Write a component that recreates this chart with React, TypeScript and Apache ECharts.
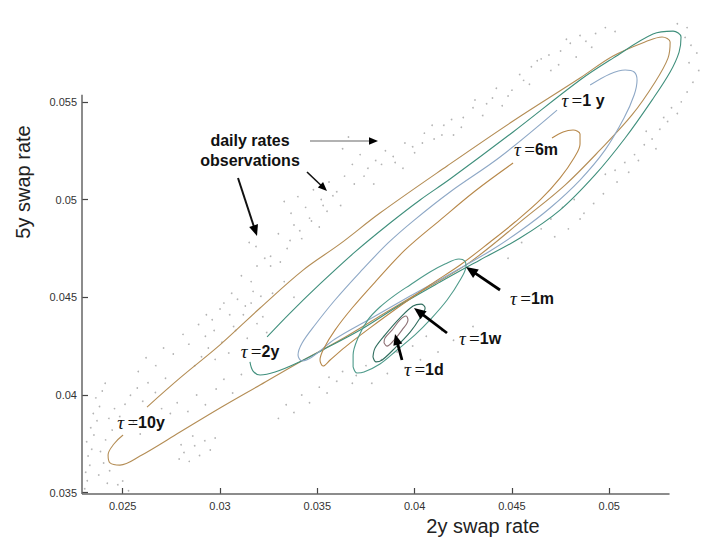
import React, { useEffect, useRef } from "react";
import * as echarts from "echarts";

// ---- axis extents & ticks ----
const X_MIN = 0.02291;
const X_MAX = 0.05487;
const X_AXIS_END = 0.0531;
const Y_MIN = 0.03493;
const Y_MAX = 0.05919;
const Y_AXIS_END = 0.05536;
const xTicks = [0.025, 0.03, 0.035, 0.04, 0.045, 0.05];
const yTicks = [0.035, 0.04, 0.045, 0.05, 0.055];

// ---- daily rate observations (2y, 5y) ----
const observations: number[][] = [
  [0.02305,0.0352],[0.02318,0.03561],[0.0231,0.03604],[0.02331,0.0364],[0.02322,0.03688],[0.02341,0.03722],
  [0.02315,0.0376],[0.02352,0.03795],[0.02336,0.03832],[0.02368,0.03868],[0.02349,0.03905],[0.02381,0.03941],
  [0.02362,0.03985],[0.02395,0.0402],[0.0241,0.0406],[0.02386,0.0371],[0.02402,0.03652],[0.02377,0.0359],
  [0.02421,0.03548],[0.02433,0.03612],[0.02412,0.0377],[0.02446,0.0382],[0.02429,0.0388],[0.02458,0.0393],
  [0.02485,0.0389],[0.02512,0.03952],[0.0254,0.03998],[0.02575,0.04035],[0.02603,0.03968],[0.0263,0.04062],
  [0.02668,0.04012],[0.02555,0.03862],[0.0259,0.038],[0.02645,0.0388],[0.027,0.0393],[0.0272,0.04085],
  [0.025,0.0356],[0.0253,0.0351],[0.02475,0.0354],
  [0.0279,0.03672],[0.02815,0.03705],[0.02842,0.0366],[0.0287,0.0374],[0.02895,0.0369],[0.02922,0.03765],
  [0.0295,0.03718],[0.02975,0.0378],[0.0286,0.0379],[0.028,0.03745],
  [0.0269,0.0384],[0.02745,0.03905],[0.0278,0.0396],[0.02835,0.03915],[0.0288,0.04],[0.02925,0.0395],
  [0.0298,0.0403],[0.0302,0.0408],[0.03065,0.0401],[0.0311,0.04105],
  [0.0287,0.0415],[0.02905,0.04195],[0.0294,0.0424],[0.02975,0.04182],[0.0301,0.0427],[0.03045,0.04215],
  [0.02925,0.043],[0.0296,0.04385],[0.03,0.0444],[0.0305,0.0441],[0.0309,0.0449],[0.0313,0.04455],
  [0.0317,0.0453],[0.0321,0.04505],[0.0308,0.0433],[0.0314,0.0429],[0.0319,0.04365],[0.0324,0.0432],
  [0.0315,0.0478],[0.03185,0.0476],[0.0323,0.047],[0.0326,0.0466],[0.033,0.04825],[0.03345,0.0475],
  [0.0338,0.0487],[0.0342,0.048],[0.0346,0.04905],[0.0351,0.0486],[0.0355,0.0494],
  [0.0333,0.0499],[0.03365,0.0493],[0.034,0.05015],[0.0344,0.0496],[0.0348,0.0505],[0.0352,0.05],
  [0.0356,0.0509],[0.036,0.0504],[0.0364,0.0512],[0.0368,0.0518],[0.0363,0.0526],[0.0366,0.0532],
  [0.0372,0.0523],[0.0376,0.0516],[0.038,0.052],[0.0385,0.0525],[0.039,0.0519],[0.0395,0.0529],
  [0.04,0.0524],[0.0405,0.0534],
  [0.041,0.0531],[0.0415,0.0538],[0.042,0.0533],[0.0425,0.0542],[0.043,0.0547],[0.0435,0.0543],
  [0.044,0.0552],[0.0445,0.0548],[0.045,0.0556],[0.0456,0.0561],[0.046,0.0568],[0.0465,0.0572],
  [0.047,0.0566],[0.0475,0.0576],[0.048,0.058],[0.0483,0.0573],[0.0488,0.0581],[0.0493,0.0585],
  [0.0498,0.0588],[0.0503,0.0586],
  [0.0539,0.0583],[0.0542,0.0579],[0.0545,0.0575],[0.0541,0.057],[0.0546,0.0566],[0.0543,0.056],
  [0.054,0.0555],[0.0537,0.055],[0.0535,0.0544],[0.053,0.054],[0.0526,0.0536],[0.0522,0.0531],
  [0.0518,0.0528],[0.0513,0.0523],[0.0508,0.0519],[0.0503,0.0515],[0.0498,0.0513],[0.0532,0.0547],
  [0.0528,0.0542],[0.0519,0.0535],[0.054,0.0588],[0.0535,0.059],
  [0.033,0.0388],[0.0334,0.0395],[0.0338,0.0391],[0.0342,0.04],[0.0346,0.0396],[0.0351,0.0404],
  [0.0355,0.0401],[0.036,0.0407],[0.037,0.041],[0.0378,0.0406],[0.0386,0.0411],[0.0395,0.0414],
  [0.0403,0.0418],[0.0412,0.0422],[0.042,0.0428],[0.043,0.0435],[0.0307,0.0435],[0.0312,0.0441],
  [0.0316,0.0447],[0.0322,0.044],[0.0327,0.0452],[0.0333,0.0458],[0.0338,0.045],
  [0.047,0.049],[0.0476,0.0496],[0.0482,0.05],[0.0487,0.0493],[0.0465,0.0485],[0.0455,0.0478],[0.0448,0.047],
  [0.0258,0.0412],[0.0262,0.0419],[0.0267,0.0415],[0.0271,0.0424],[0.0276,0.0421],[0.0281,0.0431],
  [0.0284,0.0426],[0.0289,0.0436],[0.0293,0.0441],[0.0297,0.0433],[0.0302,0.0447],[0.0306,0.0452],
  [0.0311,0.0461],[0.0316,0.0458],[0.0319,0.0466],[0.0326,0.0471],[0.0331,0.0468],[0.0336,0.0479],
  [0.0341,0.0484],[0.0347,0.0489],[0.0353,0.0497],[0.0358,0.0502],[0.0362,0.0497],[0.0369,0.0508],
  [0.0374,0.0512],[0.0379,0.0508],[0.0383,0.0518],[0.0389,0.0522],[0.0394,0.0516],[0.0399,0.0527],
  [0.0404,0.0529],[0.0409,0.0538],[0.0414,0.0533],[0.0419,0.0541],[0.0424,0.0537],[0.0431,0.0551],
  [0.0437,0.0549],[0.0442,0.0557],[0.0448,0.0553],[0.0454,0.0564],[0.0459,0.0559],[0.0463,0.0571],
  [0.0469,0.0574],[0.0474,0.0569],[0.0478,0.0582],[0.0485,0.0584],[0.0491,0.0578],
  [0.0356,0.0409],[0.0363,0.0412],[0.0368,0.0406],[0.0375,0.0415],[0.0383,0.0418],[0.0391,0.0422],
  [0.0399,0.0425],[0.0406,0.043],[0.0414,0.0433],[0.0472,0.0481],[0.0479,0.0485],[0.0485,0.049],
  [0.0492,0.0498],[0.0497,0.0503],[0.0504,0.0509],[0.051,0.0514],[0.0515,0.052],[0.0524,0.0526],
];

// ---- contour curves (2y, 5y) ----
const curve10y: number[][] = [
  [0.02625,0.03938],[0.02795,0.04087],[0.03,0.04256],[0.03206,0.04445],[0.03427,0.04639],[0.03617,0.04773],
  [0.03822,0.04931],[0.04167,0.05172],[0.04506,0.05402],[0.0485,0.05622],[0.0502,0.05735],[0.05195,0.05811],
  [0.05272,0.05832],[0.05313,0.05806],[0.05302,0.05724],[0.05236,0.05602],[0.05117,0.05433],[0.04953,0.05254],
  [0.04773,0.05074],[0.04568,0.04906],[0.04285,0.0468],[0.04028,0.04527],[0.03822,0.04404],[0.03617,0.04281],
  [0.03411,0.04169],[0.03206,0.04051],[0.03,0.03933],[0.02795,0.0381],[0.02589,0.03687],[0.02486,0.03641],
  [0.02435,0.03652],[0.02425,0.03693],[0.02455,0.03749],[0.02502,0.03795],
];
const curve2y: number[][] = [
  [0.03242,0.04297],[0.0336,0.04419],[0.03514,0.04568],[0.03694,0.04732],[0.03874,0.0488],[0.04028,0.04998],
  [0.04182,0.05105],[0.04506,0.05346],
  [0.0485,0.05612],[0.0502,0.05724],[0.05225,0.05847],[0.05328,0.05862],[0.05369,0.05832],[0.05359,0.05755],
  [0.05313,0.05653],[0.0522,0.05509],[0.05082,0.05315],[0.04927,0.05126],[0.04747,0.04946],[0.04542,0.04803],
  [0.04336,0.04691],[0.04131,0.04578],[0.03925,0.0446],[0.0372,0.04332],[0.03566,0.0425],[0.03396,0.04163],
  [0.03283,0.04117],[0.03206,0.04102],[0.0317,0.04122],[0.03154,0.04169],
];
const curve1y: number[][] = [
  [0.04902,0.05586],[0.05004,0.05643],[0.05082,0.05663],[0.05128,0.05653],[0.05143,0.05612],[0.05128,0.05535],
  [0.05076,0.05417],[0.04979,0.05254],[0.0485,0.051],[0.04696,0.04957],[0.04542,0.04839],[0.04388,0.04737],
  [0.04182,0.04619],[0.03977,0.04506],[0.03771,0.04389],[0.03591,0.04286],[0.03473,0.04194],[0.03422,0.04174],
  [0.03401,0.04204],[0.03422,0.04266],[0.03488,0.04358],[0.03591,0.04486],[0.0372,0.04629],[0.03864,0.04778],
  [0.03992,0.0489],[0.04182,0.05039],[0.04439,0.05218],[0.04732,0.05458],
];
const curve6m: number[][] = [
  [0.04706,0.05315],[0.04763,0.05346],[0.04814,0.05356],[0.0485,0.05335],[0.0485,0.05284],[0.04819,0.05213],
  [0.04747,0.0511],[0.04645,0.04998],[0.04516,0.04885],[0.04388,0.04783],[0.04234,0.04665],[0.04079,0.04563],
  [0.03925,0.04455],[0.03771,0.04343],[0.03643,0.04245],[0.03566,0.04179],[0.0353,0.04148],[0.03514,0.04179],
  [0.03535,0.0424],[0.03591,0.04332],[0.03679,0.04445],[0.03797,0.04578],[0.03951,0.04742],[0.04131,0.04895],
  [0.04311,0.05044],[0.04506,0.05187],
];
const curve1m: number[][] = [
  [0.03684,0.04143],[0.03704,0.04112],[0.0374,0.04117],[0.03822,0.04158],[0.0391,0.0423],[0.04002,0.04307],
  [0.04079,0.04384],[0.04167,0.04486],[0.04234,0.04588],[0.04264,0.0466],[0.04259,0.04685],[0.04228,0.04696],
  [0.04156,0.0467],[0.04079,0.04629],[0.03977,0.04563],[0.03899,0.04511],[0.03822,0.0445],[0.0376,0.04384],
  [0.03709,0.04291],[0.03684,0.04204],[0.03684,0.04143],
];
const curve1w: number[][] = [
  [0.03786,0.04194],[0.03802,0.04169],[0.03833,0.04179],[0.03899,0.0424],[0.03977,0.04322],[0.04028,0.04394],
  [0.04054,0.04445],[0.04033,0.04465],[0.03992,0.04455],[0.03925,0.04394],[0.03848,0.04307],[0.03797,0.0424],
  [0.03786,0.04194],
];
const curve1d: number[][] = [
  [0.03843,0.04266],[0.03858,0.0425],[0.03894,0.04281],[0.03935,0.04332],[0.03966,0.04384],[0.03956,0.04404],
  [0.03925,0.04384],[0.03884,0.04332],[0.03848,0.04291],[0.03843,0.04266],
];

const curves = [
  { name: "10y", data: curve10y, color: "#b48d55" },
  { name: "2y", data: curve2y, color: "#3f8f7c" },
  { name: "1y", data: curve1y, color: "#8ea8c6" },
  { name: "6m", data: curve6m, color: "#b7884a" },
  { name: "1m", data: curve1m, color: "#4d9a8a" },
  { name: "1w", data: curve1w, color: "#2f6d5e" },
  { name: "1d", data: curve1d, color: "#8c6f73" },
];

const tauLabels = [
  { v: "1 y", x: 583, y: 100 },
  { v: "6m", x: 536, y: 149 },
  { v: "2y", x: 260, y: 351 },
  { v: "10y", x: 141, y: 422 },
  { v: "1m", x: 532, y: 298 },
  { v: "1w", x: 480, y: 338 },
  { v: "1d", x: 424, y: 369 },
];

function arrow(x1: number, y1: number, x2: number, y2: number, w: number, head: number, color: string) {
  const a = Math.atan2(y2 - y1, x2 - x1);
  const hx = x2 - head * Math.cos(a);
  const hy = y2 - head * Math.sin(a);
  const px = -Math.sin(a) * head * 0.42;
  const py = Math.cos(a) * head * 0.42;
  return [
    { type: "line", silent: true, z: 100, shape: { x1, y1, x2: hx + Math.cos(a) * 1, y2: hy + Math.sin(a) * 1 }, style: { stroke: color, lineWidth: w } },
    { type: "polygon", silent: true, z: 100, shape: { points: [[x2, y2], [hx + px, hy + py], [hx - px, hy - py]] }, style: { fill: "#000" } },
  ];
}

const fmt = (v: number) => parseFloat(Number(v).toFixed(4)).toString();

export default function App() {
  const ref = useRef<HTMLDivElement>(null);
  useEffect(() => {
    if (!ref.current) return;
    const chart = echarts.init(ref.current, null, { renderer: "svg" });
    const axisLabelStyle = { color: "#333", fontSize: 11, fontFamily: "Liberation Sans, Arial, sans-serif" };
    const graphics: any[] = [
      {
        type: "text", silent: true, z: 100, x: 250, y: 150,
        style: { text: "daily rates\nobservations", fill: "#111", font: "bold 16px 'Liberation Sans', Arial, sans-serif", align: "center", verticalAlign: "middle", lineHeight: 20 },
      },
      {
        type: "text", silent: true, z: 100, x: 23, y: 182, rotation: Math.PI / 2,
        style: { text: "5y swap rate", fill: "#222", font: "20px 'Liberation Sans', Arial, sans-serif", align: "center", verticalAlign: "middle" },
      },
      {
        type: "text", silent: true, z: 100, x: 483, y: 526,
        style: { text: "2y swap rate", fill: "#222", font: "20px 'Liberation Sans', Arial, sans-serif", align: "center", verticalAlign: "middle" },
      },
      ...arrow(310, 141, 378, 141, 1.2, 9, "#666"),
      ...arrow(307, 172, 327, 191, 1.6, 9, "#111"),
      ...arrow(238, 178, 257, 236, 2, 11, "#111"),
      ...arrow(500, 290, 466, 267, 2.8, 12, "#000"),
      ...arrow(447, 333, 414, 308, 2.8, 12, "#000"),
      ...arrow(402, 360, 395, 334, 2.8, 11, "#000"),
    ];
    tauLabels.forEach((l) => {
      graphics.push({
        type: "text", silent: true, z: 100, x: l.x, y: l.y,
        style: {
          text: "{t|τ} {e|=}{v|" + l.v + "}",
          align: "center", verticalAlign: "middle", fill: "#111",
          rich: {
            t: { fontFamily: "'Liberation Serif', 'DejaVu Serif', serif", fontStyle: "italic", fontSize: 19, fill: "#111" },
            e: { fontFamily: "'Liberation Serif', serif", fontSize: 19, fill: "#111" },
            v: { fontFamily: "'Liberation Sans', Arial, sans-serif", fontWeight: "bold", fontSize: 16, fill: "#111" },
          },
        },
      });
    });

    chart.setOption({
      animation: false,
      backgroundColor: "#fff",
      grid: { left: 82, top: 20, width: 622, height: 474, containLabel: false, outerBoundsMode: "none" },
      xAxis: {
        type: "value", min: X_MIN, max: X_MAX,
        axisLine: { show: false },
        splitLine: { show: false },
        axisTick: { show: true, inside: true, length: 6, customValues: xTicks, lineStyle: { color: "#444", width: 1.2 } },
        axisLabel: { customValues: xTicks, formatter: fmt, margin: 6, ...axisLabelStyle },
      },
      yAxis: {
        type: "value", min: Y_MIN, max: Y_MAX,
        axisLine: { show: false },
        splitLine: { show: false },
        axisTick: { show: true, inside: true, length: 6, customValues: yTicks, lineStyle: { color: "#444", width: 1.2 } },
        axisLabel: { customValues: yTicks, formatter: fmt, margin: 5, ...axisLabelStyle },
      },
      series: [
        {
          type: "scatter", name: "obs", data: observations, symbolSize: 1.7, clip: false,
          itemStyle: { color: "#a0a0a0" }, silent: true,
          markLine: {
            silent: true, symbol: ["none", "none"], label: { show: false },
            lineStyle: { color: "#666", width: 1.5, type: "solid" },
            emphasis: { disabled: true },
            data: [
              [{ coord: [X_MIN, Y_MIN] }, { coord: [X_AXIS_END, Y_MIN] }],
              [{ coord: [X_MIN, Y_MIN] }, { coord: [X_MIN, Y_AXIS_END] }],
            ],
          },
        },
        ...curves.map((c) => ({
          type: "line", name: c.name, data: c.data, smooth: 0.35, showSymbol: false, symbol: "none",
          clip: false, silent: true,
          lineStyle: { color: c.color, width: 1.1 },
        })),
      ],
      graphic: { elements: graphics },
    });
    return () => chart.dispose();
  }, []);
  return <div ref={ref} style={{ position: "fixed", left: 0, top: 0, width: 704, height: 537 }} />;
}
